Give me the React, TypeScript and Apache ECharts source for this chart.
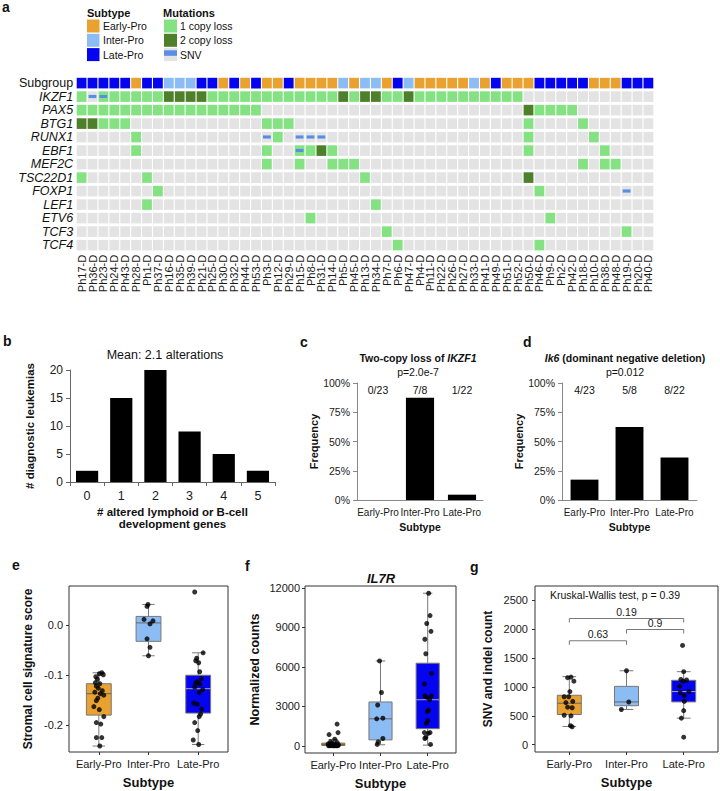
import React, { useEffect, useRef } from 'react';
import * as echarts from 'echarts';

const FONT = '"Liberation Sans", Arial, Helvetica, sans-serif';

// ---------------- Panel a : oncoprint ----------------
const sampleNames = ['Ph17-D','Ph36-D','Ph23-D','Ph24-D','Ph43-D','Ph28-D','Ph1-D','Ph37-D','Ph16-D','Ph35-D','Ph39-D','Ph21-D','Ph25-D','Ph30-D','Ph32-D','Ph44-D','Ph53-D','Ph3-D','Ph12-D','Ph29-D','Ph15-D','Ph8-D','Ph31-D','Ph14-D','Ph5-D','Ph45-D','Ph13-D','Ph34-D','Ph7-D','Ph6-D','Ph47-D','Ph4-D','Ph11-D','Ph22-D','Ph26-D','Ph27-D','Ph33-D','Ph41-D','Ph49-D','Ph51-D','Ph52-D','Ph50-D','Ph46-D','Ph9-D','Ph2-D','Ph42-D','Ph18-D','Ph10-D','Ph38-D','Ph48-D','Ph19-D','Ph20-D','Ph40-D'];
const rowLabels = ['Subgroup','IKZF1','PAX5','BTG1','RUNX1','EBF1','MEF2C','TSC22D1','FOXP1','LEF1','ETV6','TCF3','TCF4'];
// E = Early-Pro, I = Inter-Pro, L = Late-Pro
const subgroupRow = 'LLLLLELLII ILLELELEEL EEEEIEIIEL IEEEEEIELE EELLLLLEEE LLL';
// . none, g 1 copy loss, d 2 copy loss, s SNV, S SNV + 1 copy loss
const geneRows = [
  'gsSgggggdd ddgggggggg ggggdgddgg dggggggggg g......... ...', // IKZF1
  'gggggggggg ggggggg... .......... .......... .dgggg.... ...', // PAX5
  'ddggg..... .......ggg .......... .......... .g....g... ...', // BTG1
  '.....g.... .......sg. sss....... .......... .g.....g.. ...', // RUNX1
  '.....g.... .......g.. Sgdg...... .......... .g......g. ...', // EBF1
  '.......... .......g.. g..ggg.... .......... ......g.gg ...', // MEF2C
  'g.....g... .......... ......g... .......... .d........ ...', // TSC22D1
  '.......g.. .......... .......... .......... ..g....... s..', // FOXP1
  '......g... .......... .......g.. .......... .......... ...', // LEF1
  '.......... .......... .g........ .......... ...g...... ...', // ETV6
  '.......... .......... ........g. .......... .......... g..', // TCF3
  '.......... .......... .........g .......... ..g....... ...', // TCF4
];

// ---------------- Panel b ----------------
const bCats = ['0', '1', '2', '3', '4', '5'];
const bValues = [2, 15, 20, 9, 5, 2];

// ---------------- Panels c, d ----------------
const cdCats = ['Early-Pro', 'Inter-Pro', 'Late-Pro'];
const cValues = [0, 0.875, 0.0455];
const cCounts = ['0/23', '7/8', '1/22'];
const dValues = [0.174, 0.625, 0.364];
const dCounts = ['4/23', '5/8', '8/22'];
const countLevel = 0.94;

// ---------------- Panels e, f, g ----------------
const subtypeCats = ['Early-Pro', 'Inter-Pro', 'Late-Pro'];
// [group, lower whisker, Q1, median, Q3, upper whisker]
const eBoxes = [[1, -0.242, -0.180, -0.137, -0.117, -0.095], [2, -0.061, -0.032, 0.005, 0.018, 0.042], [3, -0.239, -0.176, -0.127, -0.100, -0.055]];
const eEarly = [-0.095,-0.097,-0.099,-0.103,-0.108,-0.115,-0.117,-0.122,-0.126,-0.131,-0.134,-0.137,-0.140,-0.146,-0.151,-0.163,-0.169,-0.183,-0.195,-0.198,-0.225,-0.225,-0.242];
const eEarlyJit = [0.06,0.01,0.09,-0.06,-0.03,-0.07,0.02,-0.05,-0.01,0.07,-0.08,0.03,0.10,-0.02,-0.05,-0.10,0.01,0.10,-0.05,0.04,-0.05,0.06,0.02];
const eInter = [0.042,0.038,0.012,0.009,0.003,-0.027,-0.044,-0.061];
const eInterJit = [-0.01,-0.03,-0.09,0.09,0.03,-0.03,0.03,0.0];
const eLate = [0.067,-0.055,-0.066,-0.071,-0.075,-0.093,-0.107,-0.113,-0.116,-0.118,-0.124,-0.129,-0.135,-0.156,-0.158,-0.168,-0.178,-0.183,-0.195,-0.211,-0.230,-0.239];
const eLateJit = [-0.07,0.10,-0.03,-0.05,0.01,0.03,0.06,-0.02,-0.05,0.03,-0.07,0.09,0.02,-0.09,-0.02,0.07,0.05,0.02,-0.07,-0.01,-0.10,0.01];

const fBoxes = [[1, 0, 20, 100, 200, 480], [2, 76, 450, 2050, 3330, 6450], [3, 50, 1300, 3500, 6280, 11600]];
const fEarly = [1650,1000,850,500,300,250,200,150,120,100,80,60,50,40,30,20,15,10,8,5,3,2,0];
const fEarlyJit = [0.08,0.10,-0.09,0.03,-0.06,0.08,-0.03,-0.11,0.04,-0.07,0.11,0,-0.04,0.06,-0.08,0.02,0.10,-0.06,0.05,-0.02,-0.10,0.08,0.01];
const fInter = [6450,4050,3100,2050,2100,550,300,100];
const fInterJit = [-0.02,0.02,-0.06,-0.08,0.05,0.05,-0.05,-0.07];
const fLate = [11600,9900,9300,8700,8100,7000,5500,4700,3800,3800,3700,3500,2700,2600,1900,1700,1000,1000,950,650,550,100];
const fLateJit = [0.02,0.05,-0.02,0.07,-0.06,-0.04,0.08,-0.07,0.08,-0.06,-0.02,0.04,0.02,-0.01,0,-0.03,0.05,-0.07,0.01,-0.04,-0.06,0.06];

const gBoxes = [[1, 316, 523, 718, 856, 1178], [2, 610, 675, 740, 1010, 1280], [3, 460, 741, 920, 1115, 1264]];
const gEarly = [1170,1160,1100,920,830,830,750,730,650,640,510,500,330,310];
const gEarlyJit = [0.03,-0.03,0.08,0.01,-0.09,-0.01,0.06,-0.06,-0.03,0.05,-0.09,0.03,0.02,0.05];
const gInter = [1280,740,610];
const gInterJit = [0,0.04,-0.09];
const gLate = [1718,1264,1130,1120,1100,1010,920,900,850,750,590,460,130];
const gLateJit = [-0.02,0,-0.05,0.05,-0.01,-0.07,0.09,-0.06,0.01,0.01,0,-0.04,0];
// [from group, to group, height]
const gBrackets = [[1, 3, 2184], [2, 3, 1994], [1, 2, 1799]];
const gBracketLabels = ['0.19', '0.9', '0.63'];

// ---------------- colours ----------------
const C_EARLY = '#E9A230';
const C_INTER = '#8CBCF4';
const C_LATE = '#0404EE';
const C_GREY = '#E3E3E3';
const C_G1 = '#84E283';
const C_G2 = '#4E7F2B';
const C_SNV = '#5A8EE6';
const CODES = ['.', 'g', 'd', 's', 'S', 'E', 'I', 'L'];
const CODE_FILL = [C_GREY, C_G1, C_G2, C_GREY, C_G1, C_EARLY, C_INTER, C_LATE];

function buildHeat() {
  const out: number[][] = [];
  const rows = [subgroupRow, ...geneRows].map((s) => s.replace(/ /g, ''));
  rows.forEach((row, r) => {
    for (let c = 0; c < row.length; c++) out.push([c, r, CODES.indexOf(row[c])]);
  });
  return out;
}

function pts(vals: number[], jit: number[], g: number) {
  return vals.map((v, i) => [g + jit[i], v]);
}

function boxRender(boxW: number, capW: number, fills: string[], strokes: string[], medians: string[]) {
  return (params: any, api: any) => {
    const x = api.value(0);
    const lo = api.coord([x, api.value(1)]);
    const q1 = api.coord([x, api.value(2)]);
    const md = api.coord([x, api.value(3)]);
    const q3 = api.coord([x, api.value(4)]);
    const hi = api.coord([x, api.value(5)]);
    const bw = api.size([boxW, 0])[0];
    const cw = api.size([capW, 0])[0];
    const cx = lo[0];
    const i = params.dataIndex;
    const ws = { stroke: '#7a7a7a', lineWidth: 1 };
    return {
      type: 'group',
      children: [
        { type: 'line', shape: { x1: cx, y1: hi[1], x2: cx, y2: q3[1] }, style: ws },
        { type: 'line', shape: { x1: cx, y1: q1[1], x2: cx, y2: lo[1] }, style: ws },
        { type: 'line', shape: { x1: cx - cw / 2, y1: hi[1], x2: cx + cw / 2, y2: hi[1] }, style: ws },
        { type: 'line', shape: { x1: cx - cw / 2, y1: lo[1], x2: cx + cw / 2, y2: lo[1] }, style: ws },
        { type: 'rect', shape: { x: cx - bw / 2, y: q3[1], width: bw, height: Math.max(q1[1] - q3[1], 1) }, style: { fill: fills[i], stroke: strokes[i], lineWidth: 1 } },
        { type: 'line', shape: { x1: cx - bw / 2, y1: md[1], x2: cx + bw / 2, y2: md[1] }, style: { stroke: medians[i], lineWidth: 1 } },
      ],
    };
  };
}

const T = (text: string, x: number, y: number, extra: any = {}) => ({
  type: 'text',
  x,
  y,
  silent: true,
  style: { text, fontFamily: FONT, fontSize: 10.5, fill: '#111', align: 'left', verticalAlign: 'middle', ...extra },
});
const R = (x: number, y: number, w: number, h: number, fill: string) => ({
  type: 'rect',
  silent: true,
  shape: { x, y, width: w, height: h },
  style: { fill },
});

const bold = (size: number, extra: any = {}) => ({ fontFamily: FONT, fontWeight: 'bold', fontSize: size, color: '#111', ...extra });
const lab = (size: number, extra: any = {}) => ({ fontFamily: FONT, fontSize: size, color: '#1a1a1a', ...extra });

function valueX(grid: number, nameGap: number) {
  return {
    gridIndex: grid,
    type: 'value',
    min: 0.4,
    max: 3.6,
    axisLine: { show: false, onZero: false },
    splitLine: { show: false },
    axisTick: { show: true, length: 3, customValues: [1, 2, 3], lineStyle: { color: '#333' } },
    axisLabel: { ...lab(11), margin: 6, hideOverlap: false, customValues: [1, 2, 3], formatter: (v: number) => subtypeCats[Math.round(v) - 1] || '' },
    name: 'Subtype',
    nameLocation: 'middle',
    nameGap,
    nameTextStyle: bold(13),
  };
}
function valueY(grid: number, min: number, max: number, ticks: number[], fmt: any, name: string, nameGap: number, nameSize: number, margin: number) {
  return {
    gridIndex: grid,
    type: 'value',
    min,
    max,
    axisLine: { show: false, onZero: false },
    splitLine: { show: false },
    axisTick: { show: true, length: 3, customValues: ticks, lineStyle: { color: '#333' } },
    axisLabel: { ...lab(11), margin, hideOverlap: false, customValues: ticks, formatter: fmt },
    name,
    nameLocation: 'middle',
    nameGap,
    nameTextStyle: bold(nameSize),
  };
}

function countSeries(axis: number, labels: string[]) {
  return {
    type: 'custom', xAxisIndex: axis, yAxisIndex: axis, silent: true, z: 5,
    data: labels.map((_, i) => [i, countLevel]),
    encode: { x: 0, y: 1 },
    renderItem: (params: any, api: any) => {
      const p = api.coord([api.value(0), api.value(1)]);
      return {
        type: 'text',
        style: {
          text: labels[params.dataIndex], x: p[0], y: p[1], align: 'center', verticalAlign: 'middle',
          fontFamily: FONT, fontSize: 10.5, fill: '#111',
        },
      };
    },
  };
}

function buildOption(): any {
  const frame = { show: true, borderColor: '#333', borderWidth: 1, backgroundColor: 'transparent', outerBoundsMode: 'none', containLabel: false };
  const plain = { outerBoundsMode: 'none', containLabel: false };
  const richI = { i: { fontFamily: FONT, fontWeight: 'bold', fontStyle: 'italic', fontSize: 10.5, fill: '#111' } };
  const graphic: any[] = [
    // panel letters
    T('a', 2, 7, { fontWeight: 'bold', fontSize: 14 }),
    T('b', 3, 341, { fontWeight: 'bold', fontSize: 14 }),
    T('c', 300, 342, { fontWeight: 'bold', fontSize: 14 }),
    T('d', 523, 342, { fontWeight: 'bold', fontSize: 14 }),
    T('e', 12, 565, { fontWeight: 'bold', fontSize: 14 }),
    T('f', 245, 566, { fontWeight: 'bold', fontSize: 14 }),
    T('g', 470, 567, { fontWeight: 'bold', fontSize: 14 }),
    // legend
    T('Subtype', 87, 12.5, { fontWeight: 'bold', fontSize: 11 }),
    R(87, 19.5, 12.5, 13, C_EARLY),
    R(87, 33.8, 12.5, 13, C_INTER),
    R(87, 48.1, 12.5, 13, C_LATE),
    T('Early-Pro', 103, 26),
    T('Inter-Pro', 103, 40.3),
    T('Late-Pro', 103, 54.6),
    T('Mutations', 163, 12.5, { fontWeight: 'bold', fontSize: 11 }),
    R(164, 19.5, 13, 13, C_G1),
    R(164, 33.8, 13, 13, C_G2),
    R(164, 48.1, 13, 13, C_GREY),
    R(164, 50.3, 13, 5.5, C_SNV),
    T('1 copy loss', 180, 26),
    T('2 copy loss', 180, 40.3),
    T('SNV', 180, 54.6),
    // titles
    T('Mean: 2.1 alterations', 165, 355, { align: 'center', fontSize: 12.5 }),
    T('Two-copy loss of {i|IKZF1}', 418, 358, { align: 'center', fontWeight: 'bold', fontSize: 10.5, rich: richI }),
    T('p=2.0e-7', 418, 372, { align: 'center', fontSize: 10.5 }),
    T('{i|Ik6} (dominant negative deletion)', 625, 358, { align: 'center', fontWeight: 'bold', fontSize: 10.5, rich: richI }),
    T('p=0.012', 625, 372, { align: 'center', fontSize: 10.5 }),
    T('IL7R', 381, 578, { align: 'center', fontWeight: 'bold', fontStyle: 'italic', fontSize: 13 }),
    T('Kruskal-Wallis test, p = 0.39', 550, 595, { fontSize: 10.5 }),
  ];

  const catX = (grid: number) => ({
    gridIndex: grid, type: 'category', data: cdCats,
    axisLine: { lineStyle: { color: '#888' } }, axisTick: { show: false },
    axisLabel: { ...lab(10), margin: 7, interval: 0, hideOverlap: false },
    name: 'Subtype', nameLocation: 'middle', nameGap: 21, nameTextStyle: bold(10.5),
  });
  const pctY = (grid: number, nameGap: number) => ({
    gridIndex: grid, type: 'value', min: 0, max: 1, interval: 0.25,
    axisLine: { show: true, lineStyle: { color: '#888' } },
    axisTick: { show: true, length: 4, lineStyle: { color: '#888' } },
    splitLine: { show: false },
    axisLabel: { ...lab(10.5), margin: 7, formatter: (v: number) => Math.round(v * 100) + '%' },
    name: 'Frequency', nameLocation: 'middle', nameGap, nameTextStyle: bold(11),
  });

  return {
    animation: false,
    backgroundColor: '#fff',
    textStyle: { fontFamily: FONT },
    grid: [
      { left: 76.15, top: 76.35, width: 577.7, height: 175.5, ...plain },
      { left: 70, top: 370, width: 205, height: 112, ...plain },
      { left: 357, top: 383, width: 126, height: 117, ...plain },
      { left: 562, top: 383, width: 135, height: 117, ...plain },
      { left: 69, top: 586, width: 159, height: 166, ...frame },
      { left: 305, top: 586, width: 151, height: 167, ...frame },
      { left: 535, top: 586, width: 183, height: 166, ...frame },
    ],
    xAxis: [
      {
        gridIndex: 0, type: 'category', data: sampleNames,
        axisLine: { show: false }, axisTick: { show: false }, splitLine: { show: false },
        axisLabel: { ...lab(11), interval: 0, hideOverlap: false, rotate: 90, margin: 3 },
      },
      {
        gridIndex: 1, type: 'category', data: bCats,
        axisLine: { lineStyle: { color: '#666' } },
        axisTick: { show: true, length: 4, lineStyle: { color: '#666' } },
        axisLabel: { ...lab(12.5), margin: 7, interval: 0 },
        name: '# altered lymphoid or B-cell\ndevelopment genes', nameLocation: 'middle', nameGap: 24,
        nameTextStyle: bold(11.5, { lineHeight: 12 }),
      },
      catX(2),
      catX(3),
      valueX(4, 24),
      valueX(5, 24),
      valueX(6, 24),
    ],
    yAxis: [
      {
        gridIndex: 0, type: 'category', data: rowLabels, inverse: true,
        axisLine: { show: false }, axisTick: { show: false }, splitLine: { show: false },
        axisLabel: {
          ...lab(12.5), margin: 3, interval: 0, hideOverlap: false,
          formatter: (v: string) => (v === 'Subgroup' ? `{n|${v}}` : `{i|${v}}`),
          rich: {
            n: { fontFamily: FONT, fontSize: 12.5, color: '#111' },
            i: { fontFamily: FONT, fontSize: 12.5, fontStyle: 'italic', color: '#111' },
          },
        },
      },
      {
        gridIndex: 1, type: 'value', min: 0, max: 20, interval: 5,
        axisLine: { show: true, lineStyle: { color: '#666' } },
        axisTick: { show: true, length: 4, lineStyle: { color: '#666' } },
        splitLine: { show: false },
        axisLabel: { ...lab(12), margin: 7 },
        name: '# diagnostic leukemias', nameLocation: 'middle', nameGap: 34, nameTextStyle: bold(11.5),
      },
      pctY(2, 37),
      pctY(3, 29),
      valueY(4, -0.254, 0.079, [-0.2, -0.1, 0], (v: number) => v.toFixed(1), 'Stromal cell signature score', 35, 12, 6),
      valueY(5, -550, 12150, [0, 3000, 6000, 9000, 12000], (v: number) => String(v), 'Normalized counts', 44, 12.5, 5),
      valueY(6, -126, 2747, [0, 500, 1000, 1500, 2000, 2500], (v: number) => String(v), 'SNV and indel count', 41, 12, 7),
    ],
    graphic,
    series: [
      {
        type: 'custom', xAxisIndex: 0, yAxisIndex: 0, silent: true,
        data: buildHeat(), encode: { x: 0, y: 1 },
        renderItem: (params: any, api: any) => {
          const c = api.value(0), r = api.value(1), t = api.value(2);
          const p = api.coord([c, r]);
          const s = api.size([1, 1]);
          const w = s[0] - 1.1, h = s[1] - 2.9;
          const children: any[] = [
            { type: 'rect', shape: { x: p[0] - w / 2, y: p[1] - h / 2, width: w, height: h }, style: { fill: CODE_FILL[t] } },
          ];
          if (t === 3 || t === 4) {
            children.push({ type: 'rect', shape: { x: p[0] - w * 0.4, y: p[1] - h * 0.16, width: w * 0.8, height: h * 0.3 }, style: { fill: C_SNV } });
          }
          return { type: 'group', children };
        },
      },
      { type: 'bar', xAxisIndex: 1, yAxisIndex: 1, data: bValues, barCategoryGap: '35%', itemStyle: { color: '#000' }, silent: true },
      { type: 'bar', xAxisIndex: 2, yAxisIndex: 2, data: cValues, barCategoryGap: '33%', itemStyle: { color: '#000' }, silent: true },
      countSeries(2, cCounts),
      { type: 'bar', xAxisIndex: 3, yAxisIndex: 3, data: dValues, barCategoryGap: '38%', itemStyle: { color: '#000' }, silent: true },
      countSeries(3, dCounts),
      // panel e
      {
        type: 'custom', xAxisIndex: 4, yAxisIndex: 4, silent: true, z: 2,
        data: eBoxes, encode: { x: 0, y: [1, 2, 3, 4, 5] },
        renderItem: boxRender(0.5, 0.25, [C_EARLY, C_INTER, C_LATE], ['#777', '#777', '#777'], ['#666', '#666', '#aaa']),
      },
      {
        type: 'scatter', xAxisIndex: 4, yAxisIndex: 4, silent: true, z: 3, symbolSize: 5,
        itemStyle: { color: '#000' },
        data: [...pts(eEarly, eEarlyJit, 1), ...pts(eInter, eInterJit, 2), ...pts(eLate, eLateJit, 3)],
      },
      // panel f
      {
        type: 'custom', xAxisIndex: 5, yAxisIndex: 5, silent: true, z: 2,
        data: fBoxes, encode: { x: 0, y: [1, 2, 3, 4, 5] },
        renderItem: boxRender(0.49, 0.2, [C_EARLY, C_INTER, C_LATE], ['#8a6d3b', '#777', '#777'], ['#666', '#666', '#aaa']),
      },
      {
        type: 'scatter', xAxisIndex: 5, yAxisIndex: 5, silent: true, z: 3, symbolSize: 5,
        itemStyle: { color: '#000' },
        data: [...pts(fEarly, fEarlyJit, 1), ...pts(fInter, fInterJit, 2), ...pts(fLate, fLateJit, 3)],
      },
      // panel g
      {
        type: 'custom', xAxisIndex: 6, yAxisIndex: 6, silent: true, z: 2,
        data: gBoxes, encode: { x: 0, y: [1, 2, 3, 4, 5] },
        renderItem: boxRender(0.42, 0.24, [C_EARLY, C_INTER, C_LATE], ['#777', '#777', '#777'], ['#666', '#666', '#aaa']),
      },
      {
        type: 'scatter', xAxisIndex: 6, yAxisIndex: 6, silent: true, z: 3, symbolSize: 5,
        itemStyle: { color: '#000' },
        data: [...pts(gEarly, gEarlyJit, 1), ...pts(gInter, gInterJit, 2), ...pts(gLate, gLateJit, 3)],
      },
      {
        type: 'custom', xAxisIndex: 6, yAxisIndex: 6, silent: true, z: 4,
        data: gBrackets, encode: { x: [0, 1], y: 2 },
        renderItem: (params: any, api: any) => {
          const x1 = api.value(0), x2 = api.value(1), y = api.value(2);
          const p1 = api.coord([x1, y]);
          const p2 = api.coord([x2, y]);
          const drop = 4;
          return {
            type: 'group',
            children: [
              {
                type: 'polyline',
                shape: { points: [[p1[0], p1[1] + drop], [p1[0], p1[1]], [p2[0], p2[1]], [p2[0], p2[1] + drop]] },
                style: { stroke: '#777', fill: null, lineWidth: 1 },
              },
              {
                type: 'text',
                style: {
                  text: gBracketLabels[params.dataIndex], x: (p1[0] + p2[0]) / 2, y: p1[1] - 1,
                  align: 'center', verticalAlign: 'bottom', fontSize: 10.5, fontFamily: FONT, fill: '#1a1a1a',
                },
              },
            ],
          };
        },
      },
    ],
  };
}

export default function App() {
  const ref = useRef<HTMLDivElement>(null);
  useEffect(() => {
    if (!ref.current) return;
    const chart = echarts.init(ref.current, null, { renderer: 'svg' });
    chart.setOption(buildOption());
    return () => chart.dispose();
  }, []);
  return (
    <div
      ref={ref}
      style={{ position: 'fixed', left: 0, top: 0, width: 720, height: 791, background: '#fff' }}
    />
  );
}
